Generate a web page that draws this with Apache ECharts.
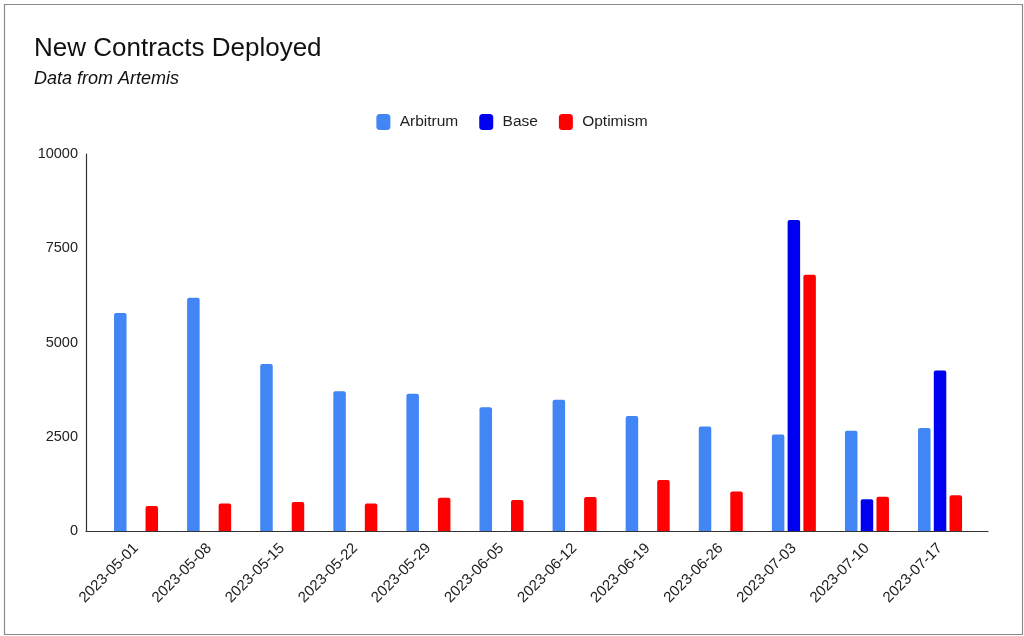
<!DOCTYPE html>
<html>
<head>
<meta charset="utf-8">
<script src="https://cdn.jsdelivr.net/npm/echarts@6/dist/echarts.min.js"></script>
<style>
  html, body { margin: 0; padding: 0; background: #fff; }
  #chart { width: 1024px; height: 636px; }
</style>
</head>
<body>
<div id="chart"></div>
<script>
const categories = ['2023-05-01','2023-05-08','2023-05-15','2023-05-22','2023-05-29','2023-06-05','2023-06-12','2023-06-19','2023-06-26','2023-07-03','2023-07-10','2023-07-17'];
const arbitrum = [5780, 6190, 4430, 3710, 3640, 3280, 3480, 3050, 2770, 2560, 2660, 2730];
const base = [null, null, null, null, null, null, null, null, null, 8250, 840, 4260];
const optimism = [660, 730, 770, 730, 880, 820, 900, 1350, 1050, 6800, 910, 950];
const yTicks = [0, 2500, 5000, 7500, 10000];

const chart = echarts.init(document.getElementById('chart'), null, { renderer: 'canvas' });
const font = "'Liberation Sans', Arial, sans-serif";
const barStyle = (c) => ({ color: c, borderRadius: [2, 2, 0, 0] });
chart.setOption({
  backgroundColor: '#fff',
  animation: false,
  textStyle: { fontFamily: font },
  graphic: [{
    type: 'rect', left: 2, top: 2,
    shape: { width: 1018, height: 630 },
    style: { fill: 'none', stroke: '#8a8a8a', lineWidth: 1.2 }
  }],
  title: {
    text: 'New Contracts Deployed',
    subtext: 'Data from Artemis',
    left: 29, top: 31,
    itemGap: 8,
    textStyle: { fontFamily: font, fontSize: 26, fontWeight: 'normal', color: '#111' },
    subtextStyle: { fontFamily: font, fontSize: 18, fontStyle: 'italic', color: '#111' }
  },
  legend: {
    top: 109, left: 'center',
    itemWidth: 14, itemHeight: 16, itemGap: 21,
    icon: 'roundRect',
    formatter: (name) => ' ' + name,
    textStyle: { fontFamily: font, fontSize: 15.5, color: '#222' },
    data: ['Arbitrum', 'Base', 'Optimism']
  },
  grid: [
    { left: 86, right: 36, top: 154, bottom: 105, containLabel: false },
    { left: 99.5, right: 47.4, top: 154, bottom: 105, containLabel: false }
  ],
  xAxis: [{
    type: 'category', gridIndex: 0,
    data: categories,
    axisLine: { lineStyle: { color: '#333', width: 1.2 } },
    axisTick: { show: false },
    axisLabel: { show: false }
  }, {
    type: 'category', gridIndex: 1,
    data: categories,
    axisLine: { show: false },
    axisTick: { show: false },
    axisLabel: { rotate: 45, fontSize: 15, color: '#222', margin: 15, interval: 0, fontFamily: font }
  }],
  yAxis: [{
    type: 'value', gridIndex: 0,
    min: 0, max: 10000, interval: 2500,
    axisLine: { show: true, lineStyle: { color: '#333', width: 1.2 } },
    axisTick: { show: false },
    splitLine: { show: false },
    axisLabel: {
      fontSize: 14.5, color: '#222', margin: 8, fontFamily: font,
      formatter: (v) => yTicks.includes(v) ? String(v) : ''
    }
  }, {
    type: 'value', gridIndex: 1,
    min: 0, max: 10000, interval: 2500,
    show: false
  }],
  series: [
    { name: 'Arbitrum', type: 'bar', xAxisIndex: 1, yAxisIndex: 1, data: arbitrum, barWidth: 12.5, barGap: '26%', itemStyle: barStyle('#4285f4') },
    { name: 'Base', type: 'bar', xAxisIndex: 1, yAxisIndex: 1, data: base, barWidth: 12.5, barGap: '26%', itemStyle: barStyle('#0000f0') },
    { name: 'Optimism', type: 'bar', xAxisIndex: 1, yAxisIndex: 1, data: optimism, barWidth: 12.5, barGap: '26%', itemStyle: barStyle('#ff0000') }
  ]
});
</script>
</body>
</html>
